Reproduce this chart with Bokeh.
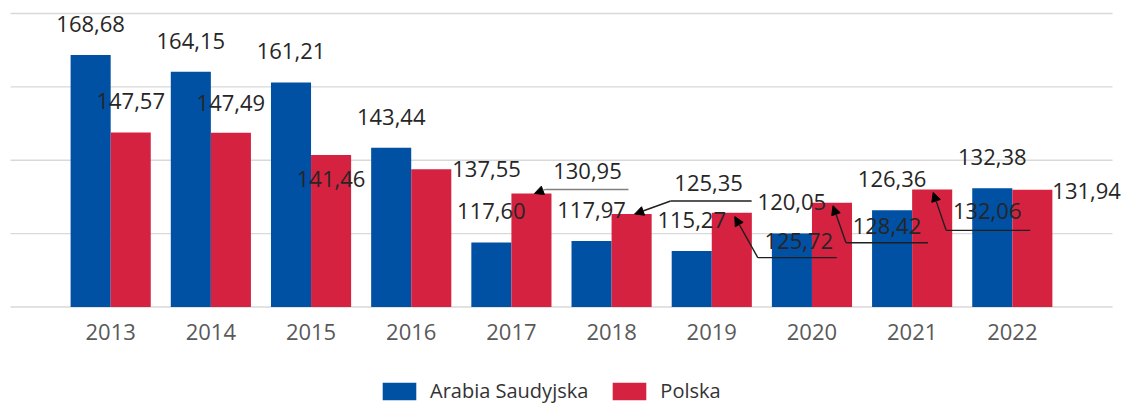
from bokeh.plotting import figure
from bokeh.models import (Range1d, ColumnDataSource, LabelSet, Arrow,
                          NormalHead, Legend, LegendItem)
from bokeh.core.properties import value
from bokeh.embed import file_html
from bokeh.resources import INLINE

# ---------------- data ----------------
years = ["2013", "2014", "2015", "2016", "2017", "2018", "2019", "2020", "2021", "2022"]
saudi = [168.68, 164.15, 161.21, 143.44, 117.60, 117.97, 115.27, 120.05, 126.36, 132.38]
poland = [147.57, 147.49, 141.46, 137.55, 130.95, 125.35, 125.72, 128.42, 132.06, 131.94]
series_names = ["Arabia Saudyjska", "Polska"]
grid_values = [100, 120, 140, 160, 180]

# ---------------- layout ----------------
FONT = "Open Sans"
BLUE = "#0050A4"
RED = "#D52240"
W, H = 1122, 404
# plot area in canvas pixels: x 10..1112 maps to -1..10 ; y 306.5 -> 100, 13 -> 180
PX_L, PX_R = 10.0, 1112.0
PY_BASE, PY_TOP = 306.5, 13.0
C0, C1 = -1.0, 10.0
V0, V1 = grid_values[0], grid_values[-1]
PXX = (PX_R - PX_L) / (C1 - C0)
PXY = (PY_BASE - PY_TOP) / (V1 - V0)
x_start = C0 - PX_L / PXX
x_end = C1 + (W - PX_R) / PXX
y_start = V0 - (H - PY_BASE) / PXY
y_end = V1 + PY_TOP / PXY

OFF = 0.2      # half of bar width in category units
BW = 0.4

p = figure(width=W, height=H, output_backend="svg", toolbar_location=None,
           x_range=Range1d(x_start, x_end), y_range=Range1d(y_start, y_end),
           min_border=0, outline_line_color=None,
           x_axis_location=None, y_axis_location=None)
p.grid.visible = False

# grid lines
p.segment(x0=[C0] * len(grid_values), x1=[C1] * len(grid_values),
          y0=grid_values, y1=grid_values, line_color="#d9d9d9", line_width=1.3)

xs = list(range(len(years)))
src = ColumnDataSource(dict(xb=[x - OFF for x in xs], xr=[x + OFF for x in xs],
                            saudi=saudi, poland=poland))
r1 = p.vbar(x="xb", top="saudi", bottom=V0, width=BW, source=src,
            fill_color=BLUE, line_color=None)
r2 = p.vbar(x="xr", top="poland", bottom=V0, width=BW, source=src,
            fill_color=RED, line_color=None)

# category (year) labels under the baseline
AXIS_DY = 33
p.add_layout(LabelSet(x="x", y="y", text="t",
                      source=ColumnDataSource(dict(x=xs, y=[V0 - AXIS_DY / PXY] * len(xs), t=years)),
                      text_align="center", text_baseline="alphabetic",
                      text_font=value(FONT), text_font_size="22px", text_color="#595959"))


def fmt(v):
    return f"{v:.2f}".replace(".", ",")


# label placement (pixels relative to bar top-centre: dx right, dy down)
saudi_pos = [("c", 0, -23)] * len(years)
poland_pos = [("c", 0, -23), ("c", 0, -22), ("c", 0, 32), ("l", 21, 8),
              ("c", 56, -14), ("c", 77, -23), ("c", 67, 36), ("c", 55, 31),
              ("c", 55, 30), ("l", 20, 9)]
# leader lines for Polska labels (pixels relative to bar top-centre, last point = arrow tip)
leaders = {
    4: [(97, -4), (14, -4), (3, 0)],
    5: [(120, -13), (39, -13), (3, 0)],
    6: [(105, 45), (26, 45), (3, 4)],
    7: [(96, 40), (14, 40), (1, 3)],
    8: [(98, 41), (14, 41), (1, 3)],
}
leader_color = {4: "#808080"}

lab = {"c": dict(x=[], y=[], t=[]), "l": dict(x=[], y=[], t=[])}
for vals, pos, off in ((saudi, saudi_pos, -OFF), (poland, poland_pos, OFF)):
    for i, v in enumerate(vals):
        a, dx, dy = pos[i]
        lab[a]["x"].append(i + off + dx / PXX)
        lab[a]["y"].append(v - dy / PXY)
        lab[a]["t"].append(fmt(v))

for a, align in (("c", "center"), ("l", "left")):
    p.add_layout(LabelSet(x="x", y="y", text="t", source=ColumnDataSource(lab[a]),
                          text_align=align, text_baseline="alphabetic",
                          text_font=value(FONT), text_font_size="22px",
                          text_color="#262626"))

mx, my, mc = [], [], []
ad = dict(x0=[], y0=[], x1=[], y1=[], c=[])
for i, pts in leaders.items():
    bx, by = i + OFF, poland[i]
    cx = [bx + dx / PXX for dx, dy in pts]
    cy = [by - dy / PXY for dx, dy in pts]
    col = leader_color.get(i, "#1f1f1f")
    mx.append(cx[:-1]); my.append(cy[:-1]); mc.append(col)
    ad["x0"].append(cx[-2]); ad["y0"].append(cy[-2])
    ad["x1"].append(cx[-1]); ad["y1"].append(cy[-1]); ad["c"].append(col)

p.multi_line(xs=mx, ys=my, line_color=mc, line_width=1.4)
p.add_layout(Arrow(x_start="x0", y_start="y0", x_end="x1", y_end="y1",
                   source=ColumnDataSource(ad), line_color="c", line_width=1.4,
                   end=NormalHead(size=9, fill_color="#000000", line_color="#000000")))

legend = Legend(items=[LegendItem(label=series_names[0], renderers=[r1]),
                       LegendItem(label=series_names[1], renderers=[r2])],
                orientation="horizontal", location=(378, 0),
                glyph_width=42, glyph_height=22, label_standoff=10, spacing=20,
                padding=0, margin=0, border_line_color=None,
                background_fill_alpha=0,
                label_text_font=FONT, label_text_font_size="20px",
                label_text_color="#333333")
p.add_layout(legend, "center")

open("out.html", "w").write(file_html(p, INLINE))
